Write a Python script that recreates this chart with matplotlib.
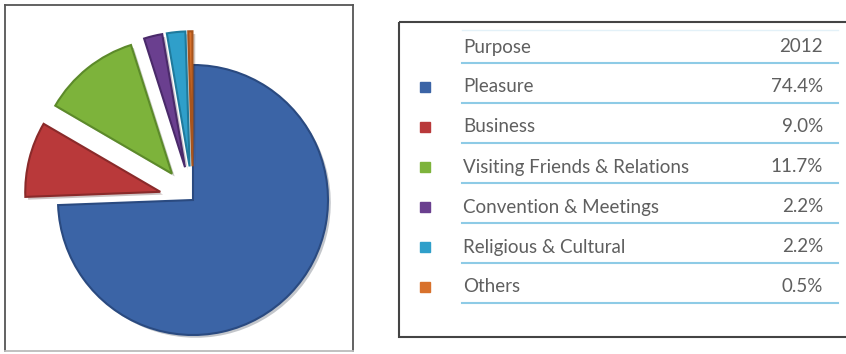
import matplotlib.pyplot as plt
import matplotlib.patheffects as pe
from matplotlib.patches import Rectangle

# data
purposes = ['Pleasure', 'Business', 'Visiting Friends & Relations',
            'Convention & Meetings', 'Religious & Cultural', 'Others']
shares = [74.4, 9.0, 11.7, 2.2, 2.2, 0.5]
year = '2012'
colors = ['#3b64a6', '#b9393a', '#7db33b', '#6a3f8f', '#2f9fca', '#d8712c']
edges = ['#2a4a80', '#8a2a2a', '#5c8a2a', '#4a2a6a', '#1f7a9c', '#a8541c']

fig = plt.figure(figsize=(8.46, 3.54), dpi=100)
W, H = 846, 354

# pie box (pixel coordinates from the top-left)
bx0, by0, bx1, by1 = 5, 5, 353, 351
cx, cy, r = 193, 200, 135
ax = fig.add_axes([bx0 / W, 1 - by1 / H, (bx1 - bx0) / W, (by1 - by0) / H])
explode = [0] + [0.25] * (len(shares) - 1)
wedges, _ = ax.pie(shares, colors=colors, startangle=90, counterclock=False,
                   explode=explode, radius=1, frame=True,
                   wedgeprops=dict(linewidth=1.5))
for w, ec in zip(wedges, edges):
    w.set_edgecolor(ec)
    w.set_path_effects([pe.SimplePatchShadow(offset=(2, -2), alpha=0.25),
                        pe.Normal()])
ax.set_xlim((bx0 - cx) / r, (bx1 - cx) / r)
ax.set_ylim(-(by1 - cy) / r, (cy - by0) / r)
ax.set_aspect('auto')
ax.set_xticks([])
ax.set_yticks([])
for s in ax.spines.values():
    s.set_visible(True)
    s.set_color('#555555')
    s.set_linewidth(1.3)
ax.spines['bottom'].set_color('#bbbbbb')

# table box
tx = fig.add_axes([0, 0, 1, 1])
tx.set_xlim(0, W)
tx.set_ylim(H, 0)
tx.axis('off')
tx.add_patch(Rectangle((399, 22), 460, 315, fill=False,
                       edgecolor='#444444', linewidth=1.5))

font = 'Lato'
fs = 13.5
txt_col = '#5f5f5f'
line_col = '#8ecbe6'
x_lab, x_val, x_mark = 463, 823, 425
y0, dy = 47, 40

tx.plot([462, 838], [y0 - 17, y0 - 17], color='#e3f1f8', lw=1)
tx.text(x_lab, y0, 'Purpose', ha='left', va='center', fontsize=fs,
        family=font, color=txt_col)
tx.text(x_val, y0, year, ha='right', va='center', fontsize=fs,
        family=font, color=txt_col)
tx.plot([462, 838], [y0 + 16, y0 + 16], color=line_col, lw=1.5)

for i, (p, v, c) in enumerate(zip(purposes, shares, colors)):
    y = y0 + dy * (i + 1)
    tx.add_patch(Rectangle((x_mark - 5, y - 5), 10, 10, color=c))
    tx.text(x_lab, y, p, ha='left', va='center', fontsize=fs,
            family=font, color=txt_col)
    tx.text(x_val, y, f'{v:.1f}%', ha='right', va='center', fontsize=fs,
            family=font, color=txt_col)
    tx.plot([462, 838], [y + 16, y + 16], color=line_col, lw=1.5)

fig.savefig('out.png', dpi=100)
